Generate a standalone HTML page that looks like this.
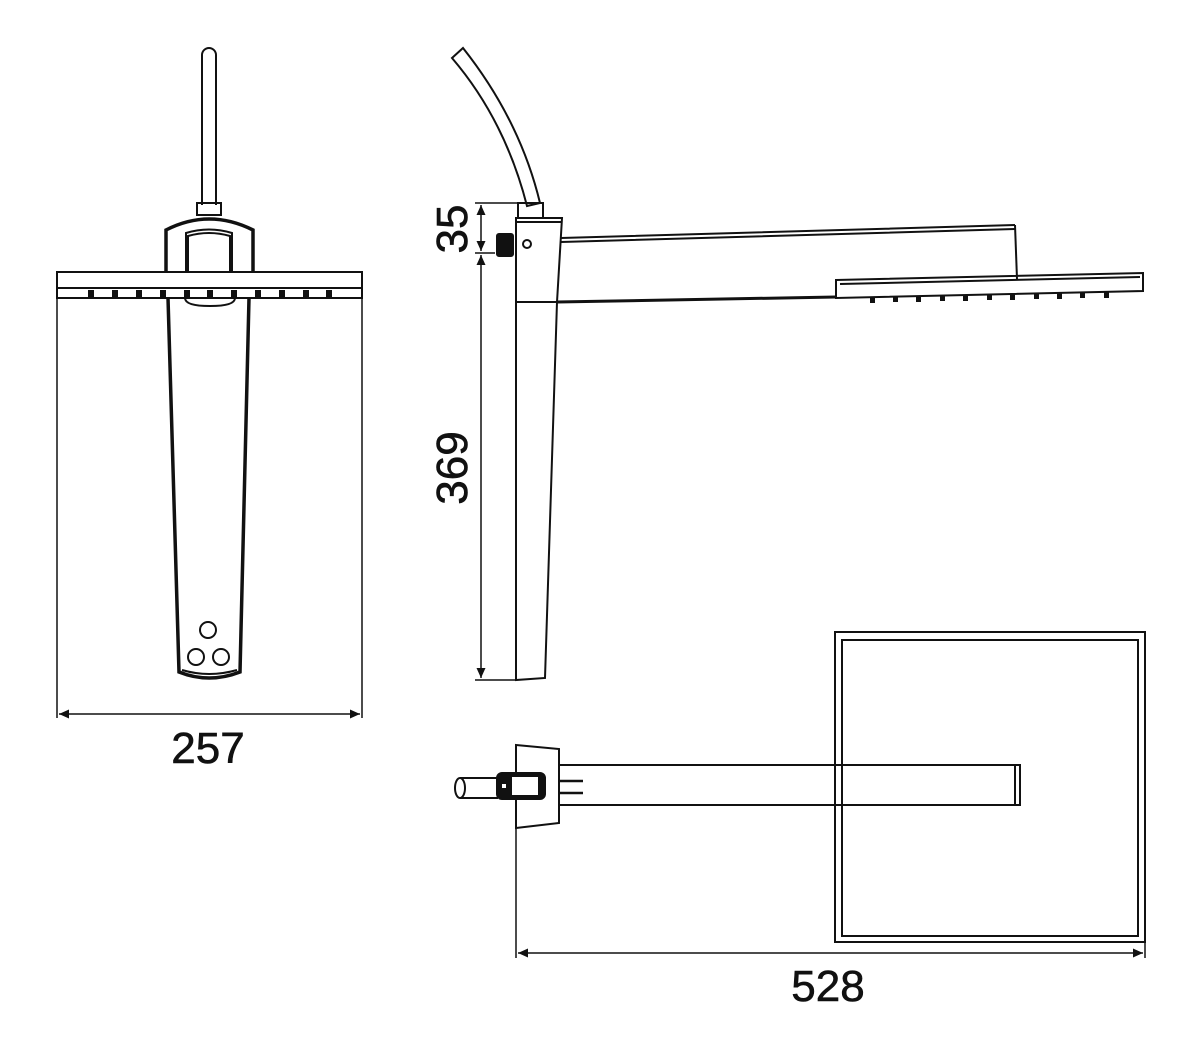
<!DOCTYPE html>
<html><head><meta charset="utf-8"><style>
html,body{margin:0;padding:0;background:#fff;width:1200px;height:1050px;overflow:hidden}
text{font-family:"Liberation Sans",sans-serif;font-size:44px;fill:#111;stroke:#111;stroke-width:0.6}
</style></head><body>
<svg width="1200" height="1050" viewBox="0 0 1200 1050" xmlns="http://www.w3.org/2000/svg">
<defs>
<marker id="ar" viewBox="0 0 10 10" refX="10" refY="5" markerWidth="18" markerHeight="10" orient="auto-start-reverse" markerUnits="userSpaceOnUse"><path d="M0,0.5 L10,5 L0,9.5 Z" fill="#111"/></marker>
</defs>
<g fill="none" stroke="#111" stroke-width="2">
<!-- FRONT VIEW -->
<path d="M202,205 V55 A7,7 0 0 1 216,55 V205"/>
<rect x="197" y="203" width="24" height="12"/>
<path d="M166,272 V230 Q209,208 253,230 V272" stroke-width="3.5"/>
<path d="M186,272 V233 Q209,226 232,233 V272"/>
<path d="M188,272 V236 Q209,230 230,236 V272"/>
<rect x="57" y="272" width="305" height="16"/>
<path d="M57,288 V298 H362 V288"/>
<g fill="#111" stroke="none">
<rect x="88" y="290" width="6" height="9"/><rect x="112" y="290" width="6" height="9"/><rect x="136" y="290" width="6" height="9"/><rect x="160" y="290" width="6" height="9"/><rect x="184" y="290" width="6" height="9"/><rect x="207" y="290" width="6" height="9"/><rect x="231" y="290" width="6" height="9"/><rect x="255" y="290" width="6" height="9"/><rect x="279" y="290" width="6" height="9"/><rect x="303" y="290" width="6" height="9"/><rect x="326" y="290" width="6" height="9"/>
</g>
<path d="M185,298 Q185,306 210,306 Q235,306 235,298"/>
<path d="M168,298 L179,672 Q209,684 240,672 L249,298" stroke-width="3.5"/>
<path d="M182,670 Q209,678 237,670"/>
<circle cx="208" cy="630" r="8"/><circle cx="196" cy="657" r="8"/><circle cx="221" cy="657" r="8"/>
<!-- dims front -->
<line x1="57" y1="288" x2="57" y2="718" stroke-width="1.5"/>
<line x1="362" y1="288" x2="362" y2="718" stroke-width="1.5"/>
<line x1="59" y1="714" x2="360" y2="714" stroke-width="1.5" marker-start="url(#ar)" marker-end="url(#ar)"/>

<!-- SIDE VIEW -->
<path d="M452,58 L463,48 Q520,120 540,203 L527,206 Q505,120 452,58 Z"/>
<rect x="518" y="203" width="25" height="15"/>
<path d="M516,218 H562 L557,302 L545,678 L516,680 Z"/>
<line x1="516" y1="222" x2="561" y2="222"/>
<line x1="516" y1="302" x2="557" y2="302"/>
<rect x="497" y="234" width="16" height="22" fill="#111" rx="2"/>
<circle cx="527" cy="244" r="4"/>
<path d="M561,238 L1015,225 M561,242 L1015,229"/>
<path d="M1015,225 L1017,279"/>
<path d="M557,302 L836,297" stroke-width="3"/>
<path d="M836,280 L1143,273 V291 L836,298 Z"/>
<path d="M840,284 L1140,277"/>
<g fill="#111" stroke="none">
<rect x="870" y="297" width="5" height="6"/><rect x="893" y="296" width="5" height="6"/><rect x="916" y="296" width="5" height="6"/><rect x="940" y="295" width="5" height="6"/><rect x="963" y="295" width="5" height="6"/><rect x="987" y="294" width="5" height="6"/><rect x="1010" y="294" width="5" height="6"/><rect x="1034" y="293" width="5" height="6"/><rect x="1057" y="293" width="5" height="6"/><rect x="1080" y="292" width="5" height="6"/><rect x="1104" y="292" width="5" height="6"/>
</g>
<!-- dims side -->
<line x1="475" y1="203" x2="518" y2="203" stroke-width="1.5"/>
<line x1="475" y1="253" x2="495" y2="253" stroke-width="1.5"/>
<line x1="475" y1="680" x2="516" y2="680" stroke-width="1.5"/>
<line x1="481" y1="205" x2="481" y2="251" stroke-width="1.5" marker-start="url(#ar)" marker-end="url(#ar)"/>
<line x1="481" y1="255" x2="481" y2="678" stroke-width="1.5" marker-start="url(#ar)" marker-end="url(#ar)"/>

<!-- TOP VIEW -->
<rect x="835" y="632" width="310" height="310"/>
<rect x="842" y="640" width="296" height="296"/>
<path d="M516,745 L559,749 V823 L516,828 Z"/>
<rect x="559" y="765" width="461" height="40"/>
<line x1="1015" y1="765" x2="1015" y2="805"/>
<path d="M460,778 H498 M460,798 H498"/>
<ellipse cx="460" cy="788" rx="5" ry="10"/>
<rect x="497" y="773" width="48" height="26" rx="5" fill="#111"/>
<rect x="512" y="777" width="26" height="18" fill="#fff" stroke="none"/>
<rect x="502" y="784" width="4" height="4" fill="#fff" stroke="none"/>
<path d="M559,781 H583 M559,793 H583" stroke-width="2.5"/>
<!-- dims top -->
<line x1="516" y1="828" x2="516" y2="958" stroke-width="1.5"/>
<line x1="1145" y1="942" x2="1145" y2="958" stroke-width="1.5"/>
<line x1="518" y1="953" x2="1143" y2="953" stroke-width="1.5" marker-start="url(#ar)" marker-end="url(#ar)"/>
</g>
<text x="208" y="763" text-anchor="middle">257</text>
<text x="828" y="1001" text-anchor="middle">528</text>
<text transform="translate(467,229) rotate(-90)" text-anchor="middle">35</text>
<text transform="translate(467,468) rotate(-90)" text-anchor="middle">369</text>
</svg>
</body></html>
